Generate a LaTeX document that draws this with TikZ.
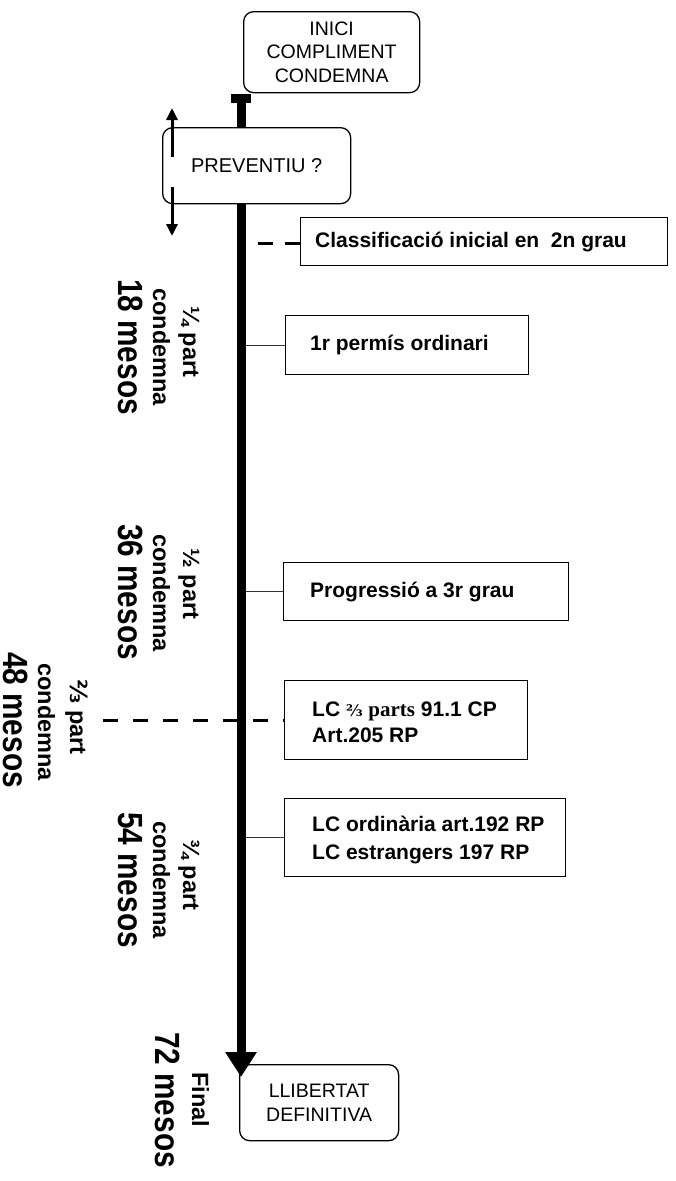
\documentclass[tikz,border=0pt]{standalone}
\usepackage{fontspec}
\usepackage{graphicx}
\setmainfont{Liberation Sans}
\newfontfamily\djs{DejaVu Sans}
\newfontfamily\djserif{DejaVu Serif}
\newfontfamily\libserif{Liberation Serif}
\usetikzlibrary{arrows.meta}
\begin{document}
\begin{tikzpicture}[x=1pt,y=-1pt,
  rbox/.style={draw, line width=1.3pt, rounded corners=10pt, fill=white, anchor=north west,
    align=center, inner sep=0pt, font=\fontsize{19.5}{23.5}\selectfont},
  sqbox/.style={draw, line width=1.3pt, fill=white, anchor=north west, inner sep=0pt},
  btext/.style={anchor=west, align=left, inner sep=0pt, font=\fontsize{21}{26}\selectfont\bfseries},
  vlab/.style={rotate=-90, anchor=base, inner sep=0pt, font=\fontsize{23.5}{28}\selectfont\bfseries},
  vbig/.style={rotate=-90, anchor=base, inner sep=0pt, font=\fontsize{35}{40}\selectfont\bfseries},
  tconn/.style={line width=1.1pt, draw=black!80},
  dconn/.style={line width=3pt, dash pattern=on 15pt off 12pt},
  mainline/.style={line width=9pt, {Rectangle[width=20pt,length=9pt]}-{Triangle[width=30pt,length=25pt]}},
  smallarrow/.style={line width=3pt, -{Triangle[width=11pt,length=12pt]}}
]
\useasboundingbox (0,0) rectangle (676,1181);

% rounded end boxes
\node[rbox, minimum width=176pt, minimum height=81pt] (ini) at (243,11) {INICI\\COMPLIMENT\\CONDEMNA};
\node[rbox, minimum width=159pt, minimum height=76pt] (llib) at (239,1064) {LLIBERTAT\\DEFINITIVA};

% event boxes
\node[sqbox, minimum width=367pt, minimum height=48pt] (cls) at (300,217) {};
\node[btext] (clsT) at ([xshift=15pt]cls.west) {Classificació inicial en\ \ 2n grau};
\node[sqbox, minimum width=243pt, minimum height=59pt] (perm) at (285,315) {};
\node[btext] (permT) at ([xshift=25pt]perm.west) {1r permís ordinari};
\node[sqbox, minimum width=285pt, minimum height=58pt] (prog) at (283,562) {};
\node[btext] (progT) at ([xshift=27pt]prog.west) {Progressió a 3r grau};
\node[sqbox, minimum width=243pt, minimum height=79pt] (lc23) at (284,680) {};
\node[btext] (lc23T) at ([xshift=28pt,yshift=-2pt]lc23.west) {LC {\djserif\fontsize{16}{20}\selectfont ⅔} {\libserif parts} 91.1 CP\\Art.205 RP};
\node[sqbox, minimum width=281pt, minimum height=78pt] (lcord) at (284,798) {};
\node[btext, font=\fontsize{21}{28}\selectfont\bfseries] (lcordT) at ([xshift=28pt,yshift=-2pt]lcord.west) {LC ordinària art.192 RP\\LC estrangers 197 RP};

% connectors
\coordinate (mtop) at (241,94);
\coordinate (mbot) at (241,1077);
\coordinate (cd) at (258,243);
\coordinate (ld) at (103,720);
\draw[dconn] (cd) -- (cd -| cls.west);
\draw[line width=3pt, dash pattern=on 15pt off 15pt] (ld) -- (ld -| lc23.west);
\draw[tconn] (perm.west -| mtop) -- (perm.west);
\draw[tconn] (prog.west -| mtop) -- (prog.west);
\draw[tconn] (lcord.west -| mtop) -- (lcord.west);

% main time line
\draw[mainline] (mtop) -- (mbot);

% preventiu box over the main line
\node[rbox, minimum width=188pt, minimum height=76pt, font=\fontsize{20}{24}\selectfont] (prev) at (162,127) {PREVENTIU ?};
\coordinate (pa1) at (172,157);
\coordinate (pa2) at (172,108);
\coordinate (pb1) at (172,187);
\coordinate (pb2) at (172,236);
\draw[smallarrow] (pa1) -- (pa2);
\draw[smallarrow] (pb1) -- (pb2);

% vertical labels
\node[vlab] (q1a) at (183,342) {¼ part};
\node[vlab] (q1b) at (153,347) {condemna};
\node[vbig] (q1c) at (118,347) {\scalebox{0.85}[1]{18 mesos}};

\node[vlab] (q2a) at (183,584) {½ part};
\node[vlab] (q2b) at (153,593) {condemna};
\node[vbig] (q2c) at (118,592) {\scalebox{0.85}[1]{36 mesos}};

\node[vlab] (q3a) at (70,717) {{\djs ⅔} part};
\node[vlab] (q3b) at (38,722) {condemna};
\node[vbig] (q3c) at (3,720) {\scalebox{0.85}[1]{48 mesos}};

\node[vlab] (q4a) at (183,875) {¾ part};
\node[vlab] (q4b) at (153,880) {condemna};
\node[vbig] (q4c) at (118,880) {\scalebox{0.85}[1]{54 mesos}};

\node[vlab] (q5a) at (192,1100) {Final};
\node[vbig] (q5b) at (155,1100) {\scalebox{0.85}[1]{72 mesos}};
\end{tikzpicture}
\end{document}
